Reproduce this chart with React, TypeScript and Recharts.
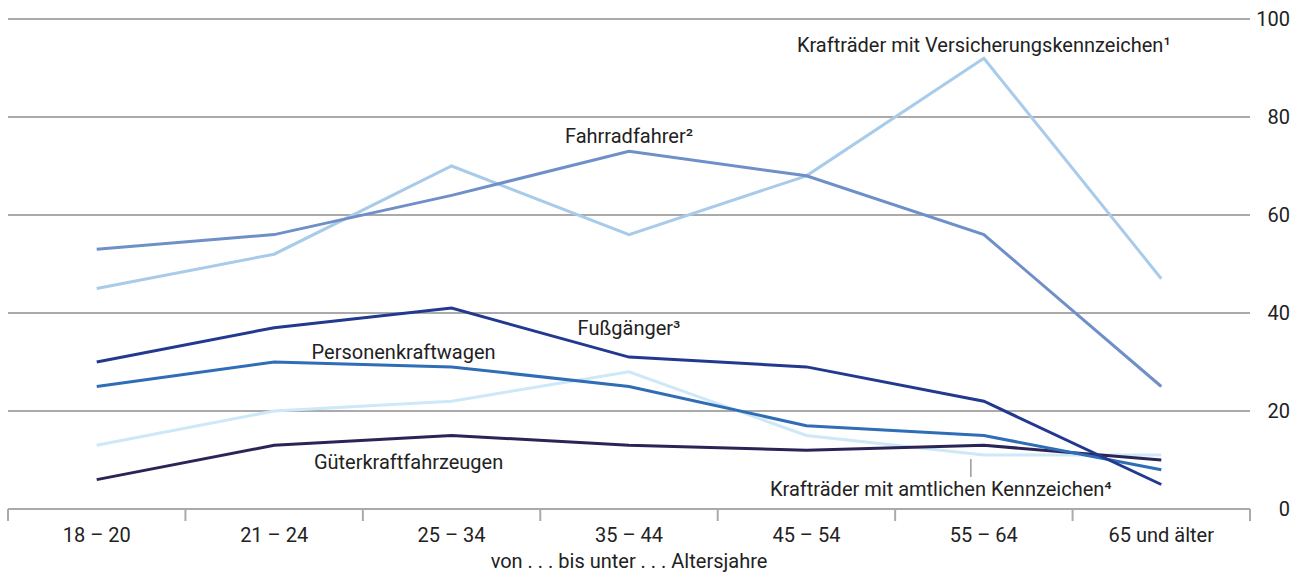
import { LineChart, Line, XAxis, YAxis, CartesianGrid, LabelList } from 'recharts'

const CATEGORIES = ['18 – 20', '21 – 24', '25 – 34', '35 – 44', '45 – 54', '55 – 64', '65 und älter']
const KRAD_VERS = [45, 52, 70, 56, 68, 92, 47]
const FAHRRAD = [53, 56, 64, 73, 68, 56, 25]
const FUSS = [30, 37, 41, 31, 29, 22, 5]
const PKW = [25, 30, 29, 25, 17, 15, 8]
const KRAD_AMTL = [13, 20, 22, 28, 15, 11, 11]
const GUETER = [6, 13, 15, 13, 12, 13, 10]
const Y_TICKS = [0, 20, 40, 60, 80, 100]

const WIDTH = 1298
const HEIGHT = 572
const MARGIN = { top: 19, right: 0, left: 8, bottom: 0 }
const Y_AXIS_W = 48
const FONT = 'Roboto, "Liberation Sans", sans-serif'
const FS = 20
const TEXT = '#222'
const GRID = '#aaaaaa'

const data = CATEGORIES.map((c, i) => ({
  cat: c,
  kradVers: KRAD_VERS[i],
  fahrrad: FAHRRAD[i],
  fuss: FUSS[i],
  pkw: PKW[i],
  kradAmtl: KRAD_AMTL[i],
  gueter: GUETER[i],
}))

const bandWidth = (WIDTH - MARGIN.left - MARGIN.right - Y_AXIS_W) / CATEGORIES.length

function XTick(props: any) {
  const { x, y, payload, index } = props
  const top = y - 8
  return (
    <g>
      <line x1={x - bandWidth / 2} x2={x - bandWidth / 2} y1={top} y2={top + 12} stroke={GRID} strokeWidth={2} />
      {index === CATEGORIES.length - 1 && (
        <line x1={x + bandWidth / 2} x2={x + bandWidth / 2} y1={top} y2={top + 12} stroke={GRID} strokeWidth={2} />
      )}
      <text x={x} y={top + 33} textAnchor="middle" fill={TEXT} fontSize={FS} fontFamily={FONT}>
        {payload.value}
      </text>
    </g>
  )
}

function YTick(props: any) {
  const { x, y, payload } = props
  return (
    <text x={x + 32} y={y} dy="0.35em" textAnchor="end" fill={TEXT} fontSize={FS} fontFamily={FONT}>
      {payload.value}
    </text>
  )
}

// label drawn only at one point of a series, shifted by dx/dy
function pointLabel(text: string, at: number, dx: number, dy: number, leader?: boolean) {
  return (props: any) => {
    const { x, y, index } = props
    if (index !== at) return null
    return (
      <g>
        {leader && <line x1={x - 13} x2={x - 13} y1={y + 4} y2={y + 22} stroke="#999" strokeWidth={1.5} />}
        <text x={x + dx} y={y + dy} textAnchor="middle" fill={TEXT} fontSize={FS} fontFamily={FONT}>
          {text}
        </text>
      </g>
    )
  }
}

export default function App() {
  return (
    <div style={{ position: 'absolute', left: 0, top: 0, background: '#fff' }}>
      <LineChart width={WIDTH} height={HEIGHT} data={data} margin={MARGIN}>
        <CartesianGrid horizontal vertical={false} stroke={GRID} strokeWidth={2} />
        <XAxis
          dataKey="cat"
          height={63}
          padding={{ left: bandWidth / 2, right: bandWidth / 2 }}
          axisLine={{ stroke: GRID, strokeWidth: 2 }}
          tickLine={false}
          tick={<XTick />}
          interval={0}
          label={{
            value: 'von . . . bis unter . . . Altersjahre',
            position: 'insideBottom',
            offset: 4,
            fill: TEXT,
            fontSize: FS,
            fontFamily: FONT,
          }}
        />
        <YAxis
          orientation="right"
          width={Y_AXIS_W}
          domain={[0, 100]}
          ticks={Y_TICKS}
          axisLine={false}
          tickLine={false}
          tick={<YTick />}
        />
        <Line dataKey="kradAmtl" stroke="#cde8f6" strokeWidth={3} dot={false} isAnimationActive={false}>
          <LabelList content={pointLabel('Krafträder mit amtlichen Kennzeichen⁴', 5, -43, 41, true)} />
        </Line>
        <Line dataKey="kradVers" stroke="#a9cbea" strokeWidth={3} dot={false} isAnimationActive={false}>
          <LabelList content={pointLabel('Krafträder mit Versicherungskennzeichen¹', 5, 0, -6)} />
        </Line>
        <Line dataKey="fahrrad" stroke="#6f8fc8" strokeWidth={3} dot={false} isAnimationActive={false}>
          <LabelList content={pointLabel('Fahrradfahrer²', 3, 0, -8)} />
        </Line>
        <Line dataKey="gueter" stroke="#2a2457" strokeWidth={3} dot={false} isAnimationActive={false}>
          <LabelList content={pointLabel('Güterkraftfahrzeugen', 2, -43, 33)} />
        </Line>
        <Line dataKey="pkw" stroke="#2f6db6" strokeWidth={3} dot={false} isAnimationActive={false}>
          <LabelList content={pointLabel('Personenkraftwagen', 2, -48, -8)} />
        </Line>
        <Line dataKey="fuss" stroke="#22398f" strokeWidth={3} dot={false} isAnimationActive={false}>
          <LabelList content={pointLabel('Fußgänger³', 3, 0, -22)} />
        </Line>
      </LineChart>
    </div>
  )
}
